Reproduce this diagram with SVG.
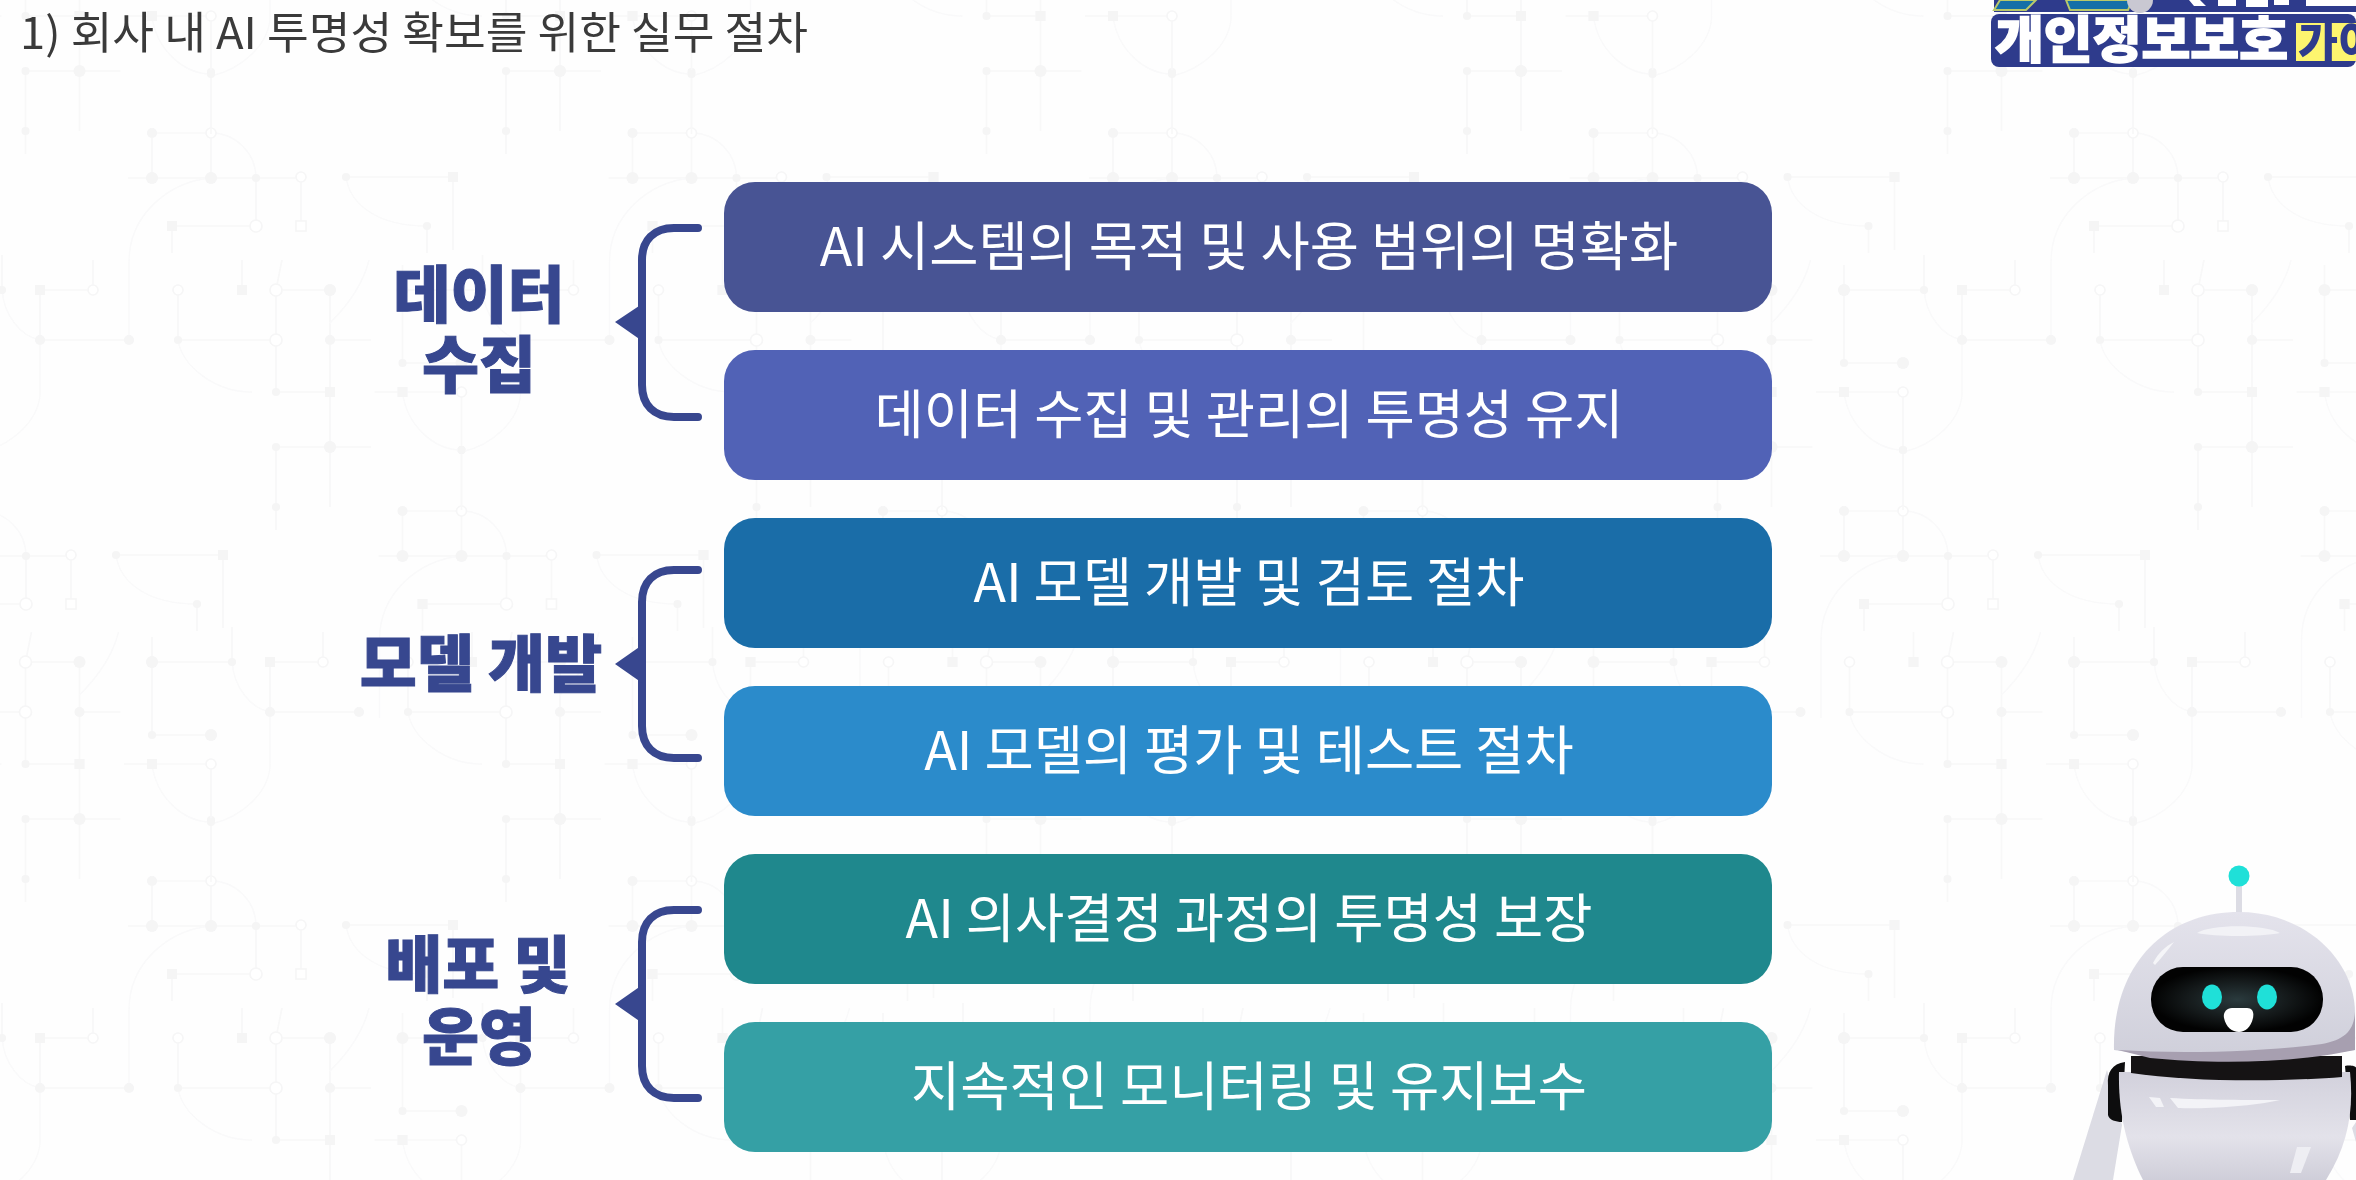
<svg xmlns="http://www.w3.org/2000/svg" xmlns:xlink="http://www.w3.org/1999/xlink" width="2356" height="1180" viewBox="0 0 2356 1180">
<style>
text{font-family:"Noto Sans CJK KR","Noto Sans",sans-serif}
.box{stroke:none}
.bt{fill:#fff;font-size:53.5px;font-weight:400;text-anchor:middle}
.lb{fill:#37478f;stroke:#37478f;stroke-width:1;font-size:62px;font-weight:900;text-anchor:middle}
.br{fill:none;stroke:#38478f;stroke-width:8;stroke-linecap:round}
.tip{fill:#38478f}
.l{fill:none;stroke:#f3f3f4;stroke-width:1.6}
.a{fill:none;stroke:#f6f6f7;stroke-width:1.4}
.n{fill:#eeeeef}
.o{fill:#fff;stroke:#f0f0f1;stroke-width:1.6}
</style>
<defs>
<linearGradient id="hd" x1="0" y1="0" x2="0" y2="1"><stop offset="0" stop-color="#e4e3ec"/><stop offset="1" stop-color="#cfcfda"/></linearGradient>
<linearGradient id="bd" x1="0" y1="0" x2="0" y2="1"><stop offset="0" stop-color="#d2d1dc"/><stop offset="0.6" stop-color="#e3e2ea"/><stop offset="1" stop-color="#cfced9"/></linearGradient>
<radialGradient id="vs" cx="0.5" cy="0.5" r="0.5"><stop offset="0" stop-color="#2a3a3d"/><stop offset="0.6" stop-color="#14191a"/><stop offset="1" stop-color="#020202"/></radialGradient>
<g id="h1">
<path class="l" d="M2133 72V178M2074 133V178M2050 178H2223V226M2094 226H2178V178M2094 226V253M2268 177H2375V250M2349 226V253"/>
<path class="a" d="M2074 133H2133A45 45 0 0 1 2178 178M2268 177C2272 205 2300 226 2349 226M2133 178C2090 182 2051 215 2051 262V340"/>
<circle class="n" cx="2133" cy="72" r="4"/><circle class="n" cx="2074" cy="133" r="5"/><circle class="o" cx="2133" cy="133" r="5"/>
<circle class="n" cx="2074" cy="178" r="6"/><circle class="n" cx="2133" cy="178" r="6"/><circle class="n" cx="2178" cy="178" r="4"/><circle class="o" cx="2223" cy="177" r="5"/>
<rect class="n" x="2089" y="221" width="10" height="10"/><circle class="o" cx="2178" cy="226" r="6"/><rect class="o" x="2218" y="221" width="10" height="10"/>
<circle class="n" cx="2268" cy="177" r="4"/><rect class="n" x="2370" y="172" width="10" height="10"/><circle class="n" cx="2349" cy="226" r="4"/>
</g>
<g id="h2">
<path class="l" d="M1844 265V363H1903M1844 290H1924V255M1962 290H2015V260M1962 290V340H2051M2100 290V340H2198V392H2252M2164 290V260M2198 290L2204 260M2198 290V340M2198 290H2252V507M2252 340H2293M2198 447H2293M2198 447V530M1903 392V510M1816 392H1844"/>
<path class="a" d="M1924 290C1926 315 1942 336 1962 340M1962 340V395C1960 420 1935 445 1903 452M1844 392C1848 425 1875 450 1903 450M2100 340C2104 365 2135 392 2174 392M1844 392H1903M2291 260C2285 285 2270 305 2252 323"/>
<circle class="n" cx="1844" cy="290" r="6"/><circle class="n" cx="1924" cy="290" r="4"/><rect class="n" x="1957" y="285" width="10" height="10"/><circle class="o" cx="2015" cy="290" r="5"/>
<circle class="n" cx="1962" cy="340" r="5"/><circle class="n" cx="2051" cy="340" r="5"/><circle class="n" cx="1844" cy="363" r="4"/><circle class="n" cx="1903" cy="363" r="6"/>
<rect class="n" x="1839" y="387" width="10" height="10"/><circle class="o" cx="1903" cy="392" r="5"/><circle class="n" cx="1903" cy="450" r="4"/>
<circle class="o" cx="2100" cy="290" r="5"/><circle class="n" cx="2100" cy="340" r="4"/><circle class="o" cx="2198" cy="340" r="6"/><rect class="n" x="2159" y="285" width="10" height="10"/><circle class="o" cx="2198" cy="290" r="6"/><circle class="n" cx="2252" cy="290" r="6"/>
<circle class="n" cx="2252" cy="340" r="5"/><circle class="n" cx="2198" cy="392" r="4"/><rect class="n" x="2247" y="387" width="10" height="10"/><circle class="n" cx="2198" cy="447" r="4"/><circle class="n" cx="2252" cy="447" r="6"/><circle class="n" cx="2198" cy="507" r="4"/>
</g>
<g id="t1"><use href="#h1"/><use href="#h1" x="-480.5"/><use href="#h1" x="-961"/><use href="#h1" x="-1441.5"/><use href="#h1" x="-1922"/><use href="#h1" x="-2402.5"/></g>
<g id="t2"><use href="#h2" x="480.5"/><use href="#h2"/><use href="#h2" x="-480.5"/><use href="#h2" x="-961"/><use href="#h2" x="-1441.5"/><use href="#h2" x="-1922"/><use href="#h2" x="-2402.5"/></g>
</defs>
<rect width="2356" height="1180" fill="#fefefe"/>
<g id="background" opacity="0.6">
<use href="#t1"/><use href="#t1" x="250.5" y="378"/><use href="#t1" y="748"/><use href="#t1" x="250.5" y="1126"/>
<use href="#t2" x="230" y="-376"/><use href="#t2"/><use href="#t2" x="230" y="372"/><use href="#t2" y="748"/>
</g>
<text id="title" x="20" y="49" font-size="44" font-weight="400" fill="#3a3a3a" textLength="788" lengthAdjust="spacingAndGlyphs">1) 회사 내 AI 투명성 확보를 위한 실무 절차</text>
<g id="logo">
<path d="M1994 0H2356V12H1994Z" fill="#2e3b8c"/>
<path d="M2000 0L1994 10H2026L2036 0ZM2066 0L2070 10H2128L2132 0Z" fill="#156fa8" stroke="#b9c96a" stroke-width="2"/>
<circle cx="2140" cy="0" r="13" fill="#c9c8d2"/>
<path d="M2189 0H2200L2206 6H2194ZM2218 0H2236V6H2218ZM2246 0H2268V7H2246ZM2274 0H2289V5H2274ZM2306 0H2356V6H2306Z" fill="#fff"/>
<rect x="1991" y="14" width="365" height="53" rx="8" fill="#2e3b8c"/>
<text x="1995" y="58" font-size="50" font-weight="900" fill="#fff" stroke="#fff" stroke-width="1.5" textLength="293" lengthAdjust="spacingAndGlyphs">개인정보보호</text>
<rect x="2296" y="23" width="70" height="38" fill="#fdf56f"/>
<text x="2298" y="59" font-size="46" font-weight="900" fill="#2e3b8c" textLength="120" lengthAdjust="spacingAndGlyphs">가이드</text>
</g>
<g id="connectors">
<path class="br" d="M698 228H674C654 228 642 240 642 260V385C642 405 654 417 674 417H698"/>
<path class="tip" d="M615 322L645 302V343Z"/>
<path class="br" d="M698 570H674C654 570 642 582 642 602V726C642 746 654 758 674 758H698"/>
<path class="tip" d="M615 664L645 643V685Z"/>
<path class="br" d="M698 910H674C654 910 642 922 642 942V1066C642 1086 654 1098 674 1098H698"/>
<path class="tip" d="M615 1004L645 983V1025Z"/>
</g>
<g id="label-data"><text class="lb" x="479" y="318">데이터</text><text class="lb" x="479" y="388">수집</text></g>
<g id="label-model"><text class="lb" x="481" y="687">모델 개발</text></g>
<g id="label-deploy"><text class="lb" x="478" y="988">배포 및</text><text class="lb" x="479" y="1060">운영</text></g>
<g id="box1"><rect class="box" x="724" y="182" width="1048" height="130" rx="31" fill="#485494"/><text class="bt" x="1249" y="266">AI 시스템의 목적 및 사용 범위의 명확화</text></g>
<g id="box2"><rect class="box" x="724" y="350" width="1048" height="130" rx="31" fill="#5162b6"/><text class="bt" x="1249" y="434">데이터 수집 및 관리의 투명성 유지</text></g>
<g id="box3"><rect class="box" x="724" y="518" width="1048" height="130" rx="31" fill="#1a6da8"/><text class="bt" x="1249" y="602">AI 모델 개발 및 검토 절차</text></g>
<g id="box4"><rect class="box" x="724" y="686" width="1048" height="130" rx="31" fill="#2b8bcb"/><text class="bt" x="1249" y="770">AI 모델의 평가 및 테스트 절차</text></g>
<g id="box5"><rect class="box" x="724" y="854" width="1048" height="130" rx="31" fill="#1f888d"/><text class="bt" x="1249" y="938">AI 의사결정 과정의 투명성 보장</text></g>
<g id="box6"><rect class="box" x="724" y="1022" width="1048" height="130" rx="31" fill="#35a0a5"/><text class="bt" x="1249" y="1106">지속적인 모니터링 및 유지보수</text></g>
<g id="robot">
<rect x="2236" y="884" width="6" height="30" fill="#dcdce4"/>
<circle cx="2239" cy="876" r="10.5" fill="#1fe0d8"/>
<path d="M2107 1070L2073 1180H2113L2122 1125Z" fill="#dcdce4"/>
<path d="M2352 1128L2356 1122V1142Z" fill="#dcdce4"/>
<path d="M2125 1062C2112 1064 2107 1072 2108 1085V1115C2109 1120 2116 1122 2122 1122Z" fill="#0d0d0e"/>
<path d="M2345 1066C2350 1065 2356 1066 2356 1068V1120H2350Z" fill="#0d0d0e"/>
<path d="M2119 1072H2350C2354 1110 2348 1145 2326 1180H2143C2128 1150 2118 1115 2119 1072Z" fill="url(#bd)"/>
<path d="M2131 1056H2342V1077C2280 1082 2190 1082 2131 1073Z" fill="#151314"/>
<path d="M2114 1050C2112 965 2165 912 2239 912C2305 912 2355 960 2355 1013V1050C2290 1060 2190 1062 2114 1050Z" fill="url(#hd)"/>
<path d="M2355 1012C2354 1030 2345 1040 2322 1044C2260 1052 2180 1054 2118 1050L2150 1058C2210 1064 2290 1064 2355 1050Z" fill="#a79fb0"/>
<path d="M2197 933C2210 924 2265 924 2280 933C2260 937 2215 937 2197 933Z" fill="#f2f2f6"/>
<path d="M2153 963C2158 953 2166 946 2174 942C2168 950 2162 957 2155 965Z" fill="#f5f5f8"/>
<rect x="2151" y="967" width="172" height="65" rx="32" fill="url(#vs)"/>
<ellipse cx="2212" cy="997" rx="10" ry="12.5" fill="#1fe0d8"/>
<ellipse cx="2267" cy="997" rx="10" ry="12.5" fill="#1fe0d8"/>
<path d="M2232 1008H2247C2253 1008 2254 1013 2253 1018C2251 1027 2245 1032 2239 1032C2232 1032 2226 1027 2224 1018C2223 1013 2226 1008 2232 1008Z" fill="#fff"/>
<path d="M2170 1098C2205 1100 2250 1100 2280 1100C2250 1107 2200 1109 2178 1108Z" fill="#f3f3f7"/>
<path d="M2149 1097L2160 1098L2164 1107H2156Z" fill="#f3f3f7"/>
<path d="M2297 1147H2311L2301 1173H2290Z" fill="#eeeef3"/>
</g>
</svg>
